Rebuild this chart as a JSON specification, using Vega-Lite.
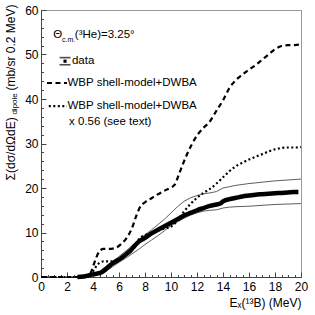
{
  "$schema": "https://vega.github.io/schema/vega-lite/v6.json",
  "width": 260,
  "height": 267,
  "autosize": {"type": "none"},
  "padding": {"left": 41, "top": 10, "right": 14, "bottom": 38},
  "config": {
    "font": "Liberation Sans",
    "view": {"stroke": "#999", "strokeWidth": 1},
    "axis": {"grid": false, "domainColor": "#444", "tickColor": "#444", "labelColor": "#000", "labelFontSize": 12, "labelFont": "Liberation Sans", "titleFont": "Liberation Sans", "titleColor": "#000", "titleFontWeight": "normal", "labelFlush": false, "labelOverlap": false}
  },
  "datasets": {
    "c": [
      {"x":0,"y":0,"s":"dashed"},{"x":3.4,"y":0,"s":"dashed"},{"x":3.7,"y":0.3,"s":"dashed"},{"x":3.9,"y":1.5,"s":"dashed"},{"x":4.2,"y":4.0,"s":"dashed"},{"x":4.5,"y":5.8,"s":"dashed"},{"x":4.8,"y":6.3,"s":"dashed"},{"x":5.2,"y":6.3,"s":"dashed"},{"x":5.7,"y":6.5,"s":"dashed"},{"x":6.2,"y":7.5,"s":"dashed"},{"x":6.6,"y":8.8,"s":"dashed"},{"x":7.0,"y":11.0,"s":"dashed"},{"x":7.3,"y":13.5,"s":"dashed"},{"x":7.6,"y":15.6,"s":"dashed"},{"x":8.0,"y":16.8,"s":"dashed"},{"x":8.5,"y":17.7,"s":"dashed"},{"x":9.0,"y":18.6,"s":"dashed"},{"x":9.5,"y":19.4,"s":"dashed"},{"x":10.0,"y":20.1,"s":"dashed"},{"x":10.3,"y":20.8,"s":"dashed"},{"x":10.6,"y":23.0,"s":"dashed"},{"x":11.0,"y":26.0,"s":"dashed"},{"x":11.6,"y":29.8,"s":"dashed"},{"x":12.0,"y":31.8,"s":"dashed"},{"x":12.5,"y":33.5,"s":"dashed"},{"x":13.0,"y":35.0,"s":"dashed"},{"x":13.5,"y":37.4,"s":"dashed"},{"x":14.0,"y":39.7,"s":"dashed"},{"x":14.5,"y":42.5,"s":"dashed"},{"x":15.0,"y":44.3,"s":"dashed"},{"x":15.5,"y":45.5,"s":"dashed"},{"x":16.0,"y":46.6,"s":"dashed"},{"x":16.5,"y":47.6,"s":"dashed"},{"x":17.0,"y":48.8,"s":"dashed"},{"x":17.5,"y":50.0,"s":"dashed"},{"x":18.0,"y":51.2,"s":"dashed"},{"x":18.5,"y":51.9,"s":"dashed"},{"x":19.0,"y":52.1,"s":"dashed"},{"x":19.5,"y":52.1,"s":"dashed"},{"x":20.0,"y":52.3,"s":"dashed"},
      {"x":0,"y":0,"s":"dotted"},{"x":3.4,"y":0,"s":"dotted"},{"x":3.7,"y":0.2,"s":"dotted"},{"x":3.9,"y":0.9,"s":"dotted"},{"x":4.2,"y":2.2,"s":"dotted"},{"x":4.5,"y":3.2,"s":"dotted"},{"x":4.8,"y":3.5,"s":"dotted"},{"x":5.2,"y":3.5,"s":"dotted"},{"x":5.7,"y":3.7,"s":"dotted"},{"x":6.2,"y":4.3,"s":"dotted"},{"x":6.6,"y":5.0,"s":"dotted"},{"x":7.0,"y":6.2,"s":"dotted"},{"x":7.3,"y":7.5,"s":"dotted"},{"x":7.6,"y":8.7,"s":"dotted"},{"x":8.0,"y":9.4,"s":"dotted"},{"x":8.5,"y":9.9,"s":"dotted"},{"x":9.0,"y":10.4,"s":"dotted"},{"x":9.5,"y":10.9,"s":"dotted"},{"x":10.0,"y":11.3,"s":"dotted"},{"x":10.5,"y":12.7,"s":"dotted"},{"x":11.0,"y":14.7,"s":"dotted"},{"x":11.5,"y":16.4,"s":"dotted"},{"x":12.0,"y":17.8,"s":"dotted"},{"x":12.5,"y":18.9,"s":"dotted"},{"x":13.0,"y":19.8,"s":"dotted"},{"x":13.5,"y":21.0,"s":"dotted"},{"x":14.0,"y":22.4,"s":"dotted"},{"x":14.5,"y":23.8,"s":"dotted"},{"x":15.0,"y":24.9,"s":"dotted"},{"x":15.5,"y":25.7,"s":"dotted"},{"x":16.0,"y":26.4,"s":"dotted"},{"x":16.5,"y":27.0,"s":"dotted"},{"x":17.0,"y":27.6,"s":"dotted"},{"x":17.5,"y":28.2,"s":"dotted"},{"x":18.0,"y":28.7,"s":"dotted"},{"x":18.5,"y":29.0,"s":"dotted"},{"x":19.0,"y":29.1,"s":"dotted"},{"x":19.5,"y":29.1,"s":"dotted"},{"x":20.0,"y":29.2,"s":"dotted"},
      {"x":2.8,"y":0,"s":"data"},{"x":3.3,"y":0.1,"s":"data"},{"x":3.6,"y":0.3,"s":"data"},{"x":4.0,"y":0.6,"s":"data"},{"x":4.4,"y":0.8,"s":"data"},{"x":4.7,"y":1.1,"s":"data"},{"x":5.0,"y":1.8,"s":"data"},{"x":5.3,"y":2.6,"s":"data"},{"x":5.7,"y":3.4,"s":"data"},{"x":6.1,"y":4.1,"s":"data"},{"x":6.5,"y":5.0,"s":"data"},{"x":6.9,"y":6.0,"s":"data"},{"x":7.2,"y":7.0,"s":"data"},{"x":7.5,"y":7.9,"s":"data"},{"x":8.0,"y":8.8,"s":"data"},{"x":8.5,"y":9.8,"s":"data"},{"x":9.0,"y":10.6,"s":"data"},{"x":9.5,"y":11.4,"s":"data"},{"x":10.0,"y":12.2,"s":"data"},{"x":10.5,"y":13.0,"s":"data"},{"x":11.0,"y":13.8,"s":"data"},{"x":11.5,"y":14.4,"s":"data"},{"x":12.0,"y":15.0,"s":"data"},{"x":12.5,"y":15.5,"s":"data"},{"x":13.0,"y":16.0,"s":"data"},{"x":13.5,"y":16.3,"s":"data"},{"x":13.8,"y":16.5,"s":"data"},{"x":14.0,"y":17.0,"s":"data"},{"x":14.5,"y":17.5,"s":"data"},{"x":15.0,"y":17.8,"s":"data"},{"x":15.5,"y":18.1,"s":"data"},{"x":16.0,"y":18.3,"s":"data"},{"x":16.5,"y":18.5,"s":"data"},{"x":17.0,"y":18.6,"s":"data"},{"x":17.5,"y":18.7,"s":"data"},{"x":18.0,"y":18.8,"s":"data"},{"x":18.5,"y":18.9,"s":"data"},{"x":19.0,"y":19.0,"s":"data"},{"x":19.5,"y":19.1,"s":"data"},{"x":19.8,"y":19.1,"s":"data"},
      {"x":3.2,"y":0,"s":"upper"},{"x":3.6,"y":0.4,"s":"upper"},{"x":4.0,"y":0.8,"s":"upper"},{"x":4.5,"y":1.3,"s":"upper"},{"x":5.0,"y":2.4,"s":"upper"},{"x":5.5,"y":3.5,"s":"upper"},{"x":6.0,"y":4.6,"s":"upper"},{"x":6.5,"y":5.8,"s":"upper"},{"x":7.0,"y":7.0,"s":"upper"},{"x":7.5,"y":8.3,"s":"upper"},{"x":8.0,"y":9.5,"s":"upper"},{"x":8.5,"y":10.6,"s":"upper"},{"x":9.0,"y":11.8,"s":"upper"},{"x":9.5,"y":13.0,"s":"upper"},{"x":10.0,"y":14.4,"s":"upper"},{"x":10.5,"y":15.8,"s":"upper"},{"x":11.0,"y":17.0,"s":"upper"},{"x":11.5,"y":17.8,"s":"upper"},{"x":12.0,"y":18.3,"s":"upper"},{"x":12.5,"y":18.7,"s":"upper"},{"x":13.0,"y":18.9,"s":"upper"},{"x":13.5,"y":19.2,"s":"upper"},{"x":14.0,"y":20.0,"s":"upper"},{"x":14.5,"y":20.3,"s":"upper"},{"x":15.0,"y":20.6,"s":"upper"},{"x":16.0,"y":21.0,"s":"upper"},{"x":17.0,"y":21.3,"s":"upper"},{"x":18.0,"y":21.6,"s":"upper"},{"x":19.0,"y":21.8,"s":"upper"},{"x":20.0,"y":22.0,"s":"upper"},
      {"x":3.2,"y":0,"s":"lower"},{"x":3.6,"y":0.2,"s":"lower"},{"x":4.0,"y":0.4,"s":"lower"},{"x":4.5,"y":0.7,"s":"lower"},{"x":5.0,"y":1.3,"s":"lower"},{"x":5.5,"y":2.3,"s":"lower"},{"x":6.0,"y":3.3,"s":"lower"},{"x":6.5,"y":4.2,"s":"lower"},{"x":7.0,"y":5.2,"s":"lower"},{"x":7.5,"y":6.2,"s":"lower"},{"x":8.0,"y":7.3,"s":"lower"},{"x":8.5,"y":8.3,"s":"lower"},{"x":9.0,"y":9.3,"s":"lower"},{"x":9.5,"y":10.4,"s":"lower"},{"x":10.0,"y":11.5,"s":"lower"},{"x":10.5,"y":12.4,"s":"lower"},{"x":11.0,"y":13.2,"s":"lower"},{"x":11.5,"y":13.9,"s":"lower"},{"x":12.0,"y":14.4,"s":"lower"},{"x":12.5,"y":14.8,"s":"lower"},{"x":13.0,"y":15.0,"s":"lower"},{"x":13.5,"y":15.1,"s":"lower"},{"x":14.0,"y":15.5,"s":"lower"},{"x":14.5,"y":15.7,"s":"lower"},{"x":15.0,"y":15.8,"s":"lower"},{"x":16.0,"y":15.9,"s":"lower"},{"x":17.0,"y":16.1,"s":"lower"},{"x":18.0,"y":16.3,"s":"lower"},{"x":19.0,"y":16.4,"s":"lower"},{"x":20.0,"y":16.5,"s":"lower"}
    ],
    "legline": [
      {"x":0.46,"y":43.6,"s":"dashed"},{"x":2.0,"y":43.6,"s":"dashed"},
      {"x":0.6,"y":38.4,"s":"dotted"},{"x":2.0,"y":38.4,"s":"dotted"}
    ],
    "legbar": [{"x":1.85,"y":48.5,"lo":47.7,"hi":49.3}],
    "labels": [
      {"x":0.95,"y":54.3,"label":"Θ","k":"main"},
      {"x":1.62,"y":53.2,"label":"c.m.","k":"sub"},
      {"x":2.6,"y":54.3,"label":"(³He)=3.25°","k":"main"},
      {"x":2.38,"y":48.5,"label":"data","k":"main"},
      {"x":2.04,"y":43.6,"label":"WBP shell-model+DWBA","k":"main"},
      {"x":2.04,"y":38.4,"label":"WBP shell-model+DWBA","k":"main"},
      {"x":2.15,"y":34.8,"label":"x 0.56 (see text)","k":"main"}
    ],
    "ytitle": [
      {"x":-2.31,"y":21.7,"label":"Σ(dσ/dΩdE)","k":"main"},
      {"x":-2.0,"y":36.5,"label":"dipole","k":"sub"},
      {"x":-2.31,"y":41.9,"label":"(mb/sr 0.2 MeV)","k":"main"}
    ]
  },
  "resolve": {"axis": {"x": "independent", "y": "independent"}},
  "layer": [
    {
      "data": {"name": "c"},
      "transform": [{"filter": "datum.s === 'upper'"}],
      "mark": {"type": "line", "color": "#333", "strokeWidth": 0.8},
      "encoding": {
        "x": {"field": "x", "type": "quantitative", "scale": {"domain": [0, 20], "nice": false}, "axis": {"orient": "bottom", "values": [0,0.5,1,1.5,2,2.5,3,3.5,4,4.5,5,5.5,6,6.5,7,7.5,8,8.5,9,9.5,10,10.5,11,11.5,12,12.5,13,13.5,14,14.5,15,15.5,16,16.5,17,17.5,18,18.5,19,19.5,20], "labels": false, "domain": false, "tickSize": -2.5, "title": null}},
        "y": {"field": "y", "type": "quantitative", "scale": {"domain": [0, 60], "nice": false}, "axis": {"orient": "left", "values": [0,2,4,6,8,10,12,14,16,18,20,22,24,26,28,30,32,34,36,38,40,42,44,46,48,50,52,54,56,58,60], "labels": false, "domain": false, "tickSize": -2.5, "title": null}}
      }
    },
    {
      "data": {"name": "c"},
      "transform": [{"filter": "datum.s === 'lower'"}],
      "mark": {"type": "line", "color": "#333", "strokeWidth": 0.8},
      "encoding": {
        "x": {"field": "x", "type": "quantitative", "scale": {"domain": [0, 20], "nice": false}, "axis": null},
        "y": {"field": "y", "type": "quantitative", "scale": {"domain": [0, 60], "nice": false}, "axis": null}
      }
    },
    {
      "data": {"name": "c"},
      "transform": [{"filter": "datum.s === 'dotted'"}],
      "mark": {"type": "line", "color": "#000", "strokeWidth": 2.2, "strokeDash": [2, 2.5], "interpolate": "monotone"},
      "encoding": {
        "x": {"field": "x", "type": "quantitative", "scale": {"domain": [0, 20], "nice": false}, "axis": null},
        "y": {"field": "y", "type": "quantitative", "scale": {"domain": [0, 60], "nice": false}, "axis": null}
      }
    },
    {
      "data": {"name": "c"},
      "transform": [{"filter": "datum.s === 'dashed'"}],
      "mark": {"type": "line", "color": "#000", "strokeWidth": 2.2, "strokeDash": [5, 3.5], "interpolate": "monotone"},
      "encoding": {
        "x": {"field": "x", "type": "quantitative", "scale": {"domain": [0, 20], "nice": false}, "axis": null},
        "y": {"field": "y", "type": "quantitative", "scale": {"domain": [0, 60], "nice": false}, "axis": null}
      }
    },
    {
      "data": {"name": "c"},
      "transform": [{"filter": "datum.s === 'data'"}],
      "mark": {"type": "line", "color": "#000", "strokeWidth": 4.5, "interpolate": "monotone"},
      "encoding": {
        "x": {"field": "x", "type": "quantitative", "scale": {"domain": [0, 20], "nice": false}, "axis": {"orient": "bottom", "values": [0,2,4,6,8,10,12,14,16,18,20], "tickSize": -5, "labelPadding": 9, "title": "Eₓ(¹³B) (MeV)", "titleAnchor": "end", "titleFontSize": 12, "titlePadding": 5}},
        "y": {"field": "y", "type": "quantitative", "scale": {"domain": [0, 60], "nice": false}, "axis": {"orient": "left", "values": [0,10,20,30,40,50,60], "tickSize": -5, "labelPadding": 8, "title": null}}
      }
    },
    {
      "data": {"name": "legline"},
      "transform": [{"filter": "datum.s === 'dashed'"}],
      "mark": {"type": "line", "color": "#000", "strokeWidth": 2.2, "strokeDash": [5, 3.5]},
      "encoding": {
        "x": {"field": "x", "type": "quantitative", "scale": {"domain": [0, 20], "nice": false}, "axis": null},
        "y": {"field": "y", "type": "quantitative", "scale": {"domain": [0, 60], "nice": false}, "axis": null}
      }
    },
    {
      "data": {"name": "legline"},
      "transform": [{"filter": "datum.s === 'dotted'"}],
      "mark": {"type": "line", "color": "#000", "strokeWidth": 2.2, "strokeDash": [2, 2.5]},
      "encoding": {
        "x": {"field": "x", "type": "quantitative", "scale": {"domain": [0, 20], "nice": false}, "axis": null},
        "y": {"field": "y", "type": "quantitative", "scale": {"domain": [0, 60], "nice": false}, "axis": null}
      }
    },
    {
      "data": {"name": "legbar"},
      "mark": {"type": "tick", "orient": "horizontal", "color": "#000", "size": 11, "thickness": 1.6},
      "encoding": {
        "x": {"field": "x", "type": "quantitative", "scale": {"domain": [0, 20], "nice": false}, "axis": null},
        "y": {"field": "hi", "type": "quantitative", "scale": {"domain": [0, 60], "nice": false}, "axis": null}
      }
    },
    {
      "data": {"name": "legbar"},
      "mark": {"type": "tick", "orient": "horizontal", "color": "#000", "size": 11, "thickness": 1.6},
      "encoding": {
        "x": {"field": "x", "type": "quantitative", "scale": {"domain": [0, 20], "nice": false}, "axis": null},
        "y": {"field": "lo", "type": "quantitative", "scale": {"domain": [0, 60], "nice": false}, "axis": null}
      }
    },
    {
      "data": {"name": "legbar"},
      "mark": {"type": "square", "color": "#000", "size": 10, "opacity": 1},
      "encoding": {
        "x": {"field": "x", "type": "quantitative", "scale": {"domain": [0, 20], "nice": false}, "axis": null},
        "y": {"field": "y", "type": "quantitative", "scale": {"domain": [0, 60], "nice": false}, "axis": null}
      }
    },
    {
      "data": {"name": "labels"},
      "transform": [{"filter": "datum.k === 'main'"}],
      "mark": {"type": "text", "align": "left", "baseline": "middle", "fontSize": 11.5, "color": "#000"},
      "encoding": {
        "x": {"field": "x", "type": "quantitative", "scale": {"domain": [0, 20], "nice": false}, "axis": null},
        "y": {"field": "y", "type": "quantitative", "scale": {"domain": [0, 60], "nice": false}, "axis": null},
        "text": {"field": "label"}
      }
    },
    {
      "data": {"name": "labels"},
      "transform": [{"filter": "datum.k === 'sub'"}],
      "mark": {"type": "text", "align": "left", "baseline": "middle", "fontSize": 7, "color": "#000"},
      "encoding": {
        "x": {"field": "x", "type": "quantitative", "scale": {"domain": [0, 20], "nice": false}, "axis": null},
        "y": {"field": "y", "type": "quantitative", "scale": {"domain": [0, 60], "nice": false}, "axis": null},
        "text": {"field": "label"}
      }
    },
    {
      "data": {"name": "ytitle"},
      "transform": [{"filter": "datum.k === 'main'"}],
      "mark": {"type": "text", "align": "left", "baseline": "middle", "angle": 270, "fontSize": 12, "color": "#000"},
      "encoding": {
        "x": {"field": "x", "type": "quantitative", "scale": {"domain": [0, 20], "nice": false}, "axis": null},
        "y": {"field": "y", "type": "quantitative", "scale": {"domain": [0, 60], "nice": false}, "axis": null},
        "text": {"field": "label"}
      }
    },
    {
      "data": {"name": "ytitle"},
      "transform": [{"filter": "datum.k === 'sub'"}],
      "mark": {"type": "text", "align": "left", "baseline": "middle", "angle": 270, "fontSize": 8, "color": "#000"},
      "encoding": {
        "x": {"field": "x", "type": "quantitative", "scale": {"domain": [0, 20], "nice": false}, "axis": null},
        "y": {"field": "y", "type": "quantitative", "scale": {"domain": [0, 60], "nice": false}, "axis": null},
        "text": {"field": "label"}
      }
    }
  ]
}
